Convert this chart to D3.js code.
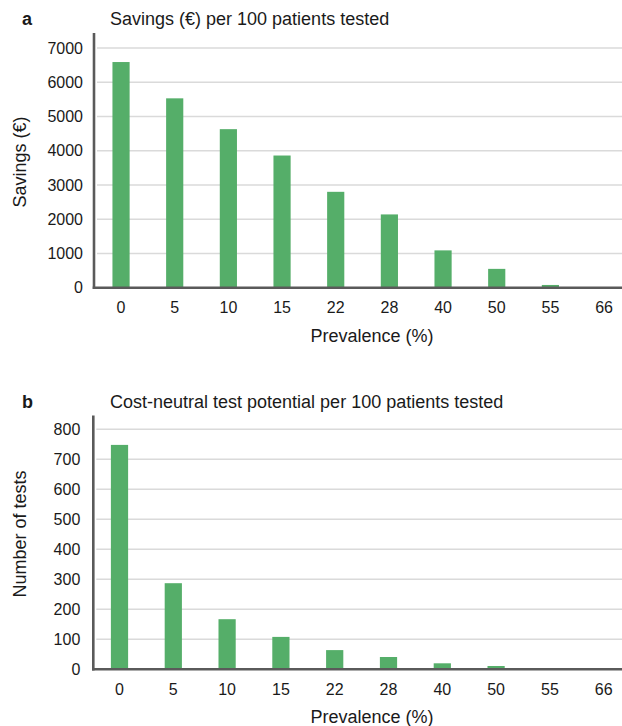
<!DOCTYPE html>
<html>
<head>
<meta charset="utf-8">
<script src="https://cdn.jsdelivr.net/npm/d3@7"></script>
<style>
  html, body { margin: 0; padding: 0; background: #fff; }
  svg { display: block; font-family: Arial, "Liberation Sans", Helvetica, sans-serif; }
</style>
</head>
<body>
<svg id="chart" width="622" height="726"></svg>
<script>
// Prevalence categories shared by both panels
const prevalence = ["0", "5", "10", "15", "22", "28", "40", "50", "55", "66"];
// Panel a: savings (€) per 100 patients tested
const savings = [6590, 5530, 4630, 3860, 2800, 2140, 1090, 550, 80, 0];
const savingsTicks = [0, 1000, 2000, 3000, 4000, 5000, 6000, 7000];
// Panel b: cost-neutral number of tests per 100 patients tested
const tests = [748, 287, 167, 108, 64, 41, 20, 11, 3, 0];
const testsTicks = [0, 100, 200, 300, 400, 500, 600, 700, 800];

const svg = d3.select("#chart");
const barColor = "#55ae69";
const axisColor = "#5a5a5a";
const gridColor = "#dadada";
const textColor = "#1a1a1a";

function drawPanel(opts) {
  const g = svg.append("g");

  const x = d3.scaleBand()
    .domain(prevalence)
    .range([opts.x0, opts.x1])
    .paddingInner(0.68)
    .paddingOuter(0.34);

  const y = d3.scaleLinear()
    .domain([0, opts.max])
    .range([opts.y0, opts.y1]);

  // horizontal gridlines
  g.append("g")
    .selectAll("line")
    .data(opts.ticks.filter(d => d > 0))
    .join("line")
    .attr("x1", opts.axisX + 3)
    .attr("x2", 622)
    .attr("y1", d => y(d))
    .attr("y2", d => y(d))
    .attr("stroke", gridColor)
    .attr("stroke-width", 1.5);

  // bars
  g.append("g")
    .selectAll("rect")
    .data(opts.values)
    .join("rect")
    .attr("x", (d, i) => x(prevalence[i]))
    .attr("width", x.bandwidth())
    .attr("y", d => y(d))
    .attr("height", d => y(0) - y(d))
    .attr("fill", barColor);

  // y axis labels
  const yAxis = g.append("g")
    .attr("transform", `translate(${opts.axisX},0)`)
    .call(d3.axisLeft(y).tickValues(opts.ticks).tickSize(0).tickPadding(opts.yPad).tickFormat(d3.format("d")));
  yAxis.select(".domain").remove();
  yAxis.selectAll("text").attr("font-size", 16).attr("fill", textColor).attr("font-family", null);

  // x axis labels
  const xAxis = g.append("g")
    .attr("transform", `translate(0,${opts.y0})`)
    .call(d3.axisBottom(x).tickSize(0).tickPadding(14));
  xAxis.select(".domain").remove();
  xAxis.selectAll("text").attr("font-size", 16).attr("fill", textColor).attr("font-family", null);

  // axis lines
  g.append("line")
    .attr("x1", opts.axisX).attr("x2", opts.axisX)
    .attr("y1", opts.axisTop).attr("y2", opts.y0 + 1.2)
    .attr("stroke", axisColor).attr("stroke-width", 2.6);
  g.append("line")
    .attr("x1", opts.axisX - 1.3).attr("x2", 622)
    .attr("y1", opts.y0).attr("y2", opts.y0)
    .attr("stroke", axisColor).attr("stroke-width", 2.6);

  // panel letter and title
  g.append("text")
    .attr("x", 22).attr("y", opts.titleY)
    .attr("font-size", 18).attr("font-weight", "bold").attr("fill", textColor)
    .text(opts.letter);
  g.append("text")
    .attr("x", 110).attr("y", opts.titleY)
    .attr("font-size", 18).attr("fill", textColor)
    .text(opts.title);

  // axis titles
  g.append("text")
    .attr("transform", `translate(26,${opts.yTitleY}) rotate(-90)`)
    .attr("text-anchor", "middle")
    .attr("font-size", 18).attr("fill", textColor)
    .text(opts.yTitle);
  g.append("text")
    .attr("x", 372).attr("y", opts.y0 + 54)
    .attr("text-anchor", "middle")
    .attr("font-size", 18).attr("fill", textColor)
    .text("Prevalence (%)");
}

drawPanel({
  letter: "a",
  title: "Savings (€) per 100 patients tested",
  yTitle: "Savings (€)",
  values: savings,
  ticks: savingsTicks,
  max: 7000,
  x0: 94.2, x1: 630.9,
  y0: 287.7, y1: 48,
  axisX: 94,
  axisTop: 33,
  yPad: 11,
  titleY: 25,
  yTitleY: 162
});

drawPanel({
  letter: "b",
  title: "Cost-neutral test potential per 100 patients tested",
  yTitle: "Number of tests",
  values: tests,
  ticks: testsTicks,
  max: 800,
  x0: 92.6, x1: 630.6,
  y0: 669.3, y1: 429.3,
  axisX: 93.3,
  axisTop: 415.5,
  yPad: 13,
  titleY: 408,
  yTitleY: 534
});
</script>
</body>
</html>
